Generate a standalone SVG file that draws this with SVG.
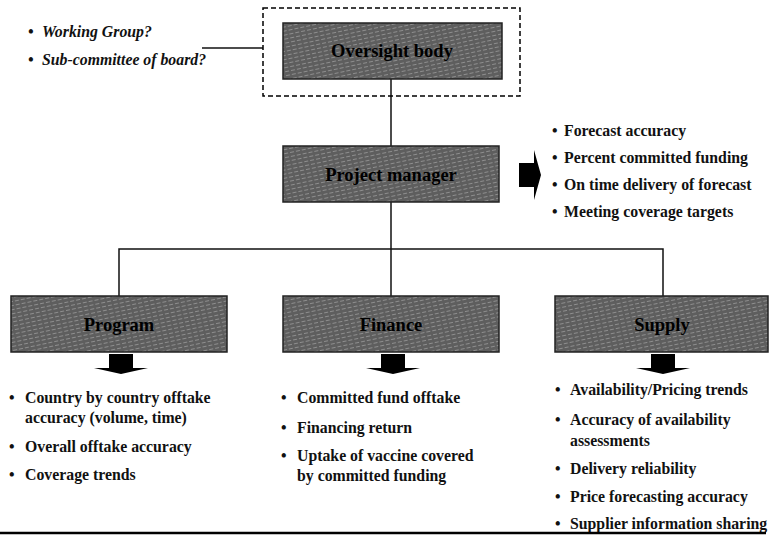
<svg xmlns="http://www.w3.org/2000/svg" width="769" height="535" viewBox="0 0 769 535">
<defs>
<pattern id="tex" width="6" height="4" patternUnits="userSpaceOnUse" patternTransform="rotate(-12)">
<rect width="6" height="4" fill="#5e5e5e"/>
<line x1="0" y1="1.5" x2="4" y2="1.5" stroke="#8e8e8e" stroke-width="1"/>
</pattern>
</defs>
<style>
.box{fill:url(#tex);stroke:#222;stroke-width:1.5}
.bt{font-family:"Liberation Serif",serif;font-weight:bold;font-size:18.5px;fill:#000;text-anchor:middle}
.t{font-family:"Liberation Serif",serif;font-weight:bold;font-size:15.8px;fill:#111}
.ti{font-family:"Liberation Serif",serif;font-weight:bold;font-style:italic;font-size:15.8px;fill:#111}
.ln{stroke:#111;stroke-width:1.5;fill:none}
.arr{fill:#000}
</style>
<rect width="769" height="535" fill="#fff"/>
<g id="connectors">
<line class="ln" x1="202" y1="48" x2="263" y2="48"/>
<line class="ln" x1="391" y1="79" x2="391" y2="146"/>
<line class="ln" x1="391" y1="202" x2="391" y2="296" stroke-width="2"/>
<polyline class="ln" points="119,296 119,249 663,249 663,296"/>
</g>
<g id="oversight-group">
<rect x="263" y="8" width="257" height="88" fill="none" stroke="#000" stroke-width="1.5" stroke-dasharray="5,3"/>
</g>
<g id="oversight">
<rect class="box" x="283" y="23" width="219" height="56"/>
<text class="bt" x="392" y="57">Oversight body</text>
</g>
<g id="oversight-notes">
<text class="ti" x="28" y="37">• <tspan x="42">Working Group?</tspan></text>
<text class="ti" x="28" y="65">• <tspan x="42">Sub-committee of board?</tspan></text>
</g>
<g id="pm">
<rect class="box" x="283" y="146" width="216" height="56"/>
<text class="bt" x="391" y="181">Project manager</text>
</g>
<g id="pm-arrow">
<polygon class="arr" points="519,163 534,163 534,150 541,175 534,200 534,187 519,187"/>
</g>
<g id="pm-notes">
<text class="t" x="552" y="136">• <tspan x="564">Forecast accuracy</tspan></text>
<text class="t" x="552" y="163">• <tspan x="564">Percent committed funding</tspan></text>
<text class="t" x="552" y="190">• <tspan x="564">On time delivery of forecast</tspan></text>
<text class="t" x="552" y="217">• <tspan x="564">Meeting coverage targets</tspan></text>
</g>
<g id="program">
<rect class="box" x="11" y="296" width="216" height="56"/>
<text class="bt" x="119" y="331">Program</text>
<polygon class="arr" points="109,354 133,354 133,368 148,368 121,374 94,368 109,368"/>
<text class="t" x="9" y="403">• <tspan x="25">Country by country offtake</tspan></text>
<text class="t" x="25" y="423">accuracy (volume, time)</text>
<text class="t" x="9" y="452">• <tspan x="25">Overall offtake accuracy</tspan></text>
<text class="t" x="9" y="480">• <tspan x="25">Coverage trends</tspan></text>
</g>
<g id="finance">
<rect class="box" x="283" y="296" width="216" height="56"/>
<text class="bt" x="391" y="331">Finance</text>
<polygon class="arr" points="381,354 405,354 405,368 420,368 393,374 366,368 381,368"/>
<text class="t" x="281" y="403">• <tspan x="297">Committed fund offtake</tspan></text>
<text class="t" x="281" y="433">• <tspan x="297">Financing return</tspan></text>
<text class="t" x="281" y="461">• <tspan x="297">Uptake of vaccine covered</tspan></text>
<text class="t" x="297" y="481">by committed funding</text>
</g>
<g id="supply">
<rect class="box" x="555" y="296" width="213" height="56"/>
<text class="bt" x="662" y="331">Supply</text>
<polygon class="arr" points="651,354 675,354 675,368 690,368 663,374 636,368 651,368"/>
<text class="t" x="555" y="395">• <tspan x="570">Availability/Pricing trends</tspan></text>
<text class="t" x="555" y="425">• <tspan x="570">Accuracy of availability</tspan></text>
<text class="t" x="570" y="446">assessments</text>
<text class="t" x="555" y="474">• <tspan x="570">Delivery reliability</tspan></text>
<text class="t" x="555" y="502">• <tspan x="570">Price forecasting accuracy</tspan></text>
<text class="t" x="555" y="529">• <tspan x="570">Supplier information sharing</tspan></text>
</g>
<g id="rule">
<line x1="0" y1="533" x2="766" y2="533" stroke="#000" stroke-width="2.5"/>
</g>
</svg>
